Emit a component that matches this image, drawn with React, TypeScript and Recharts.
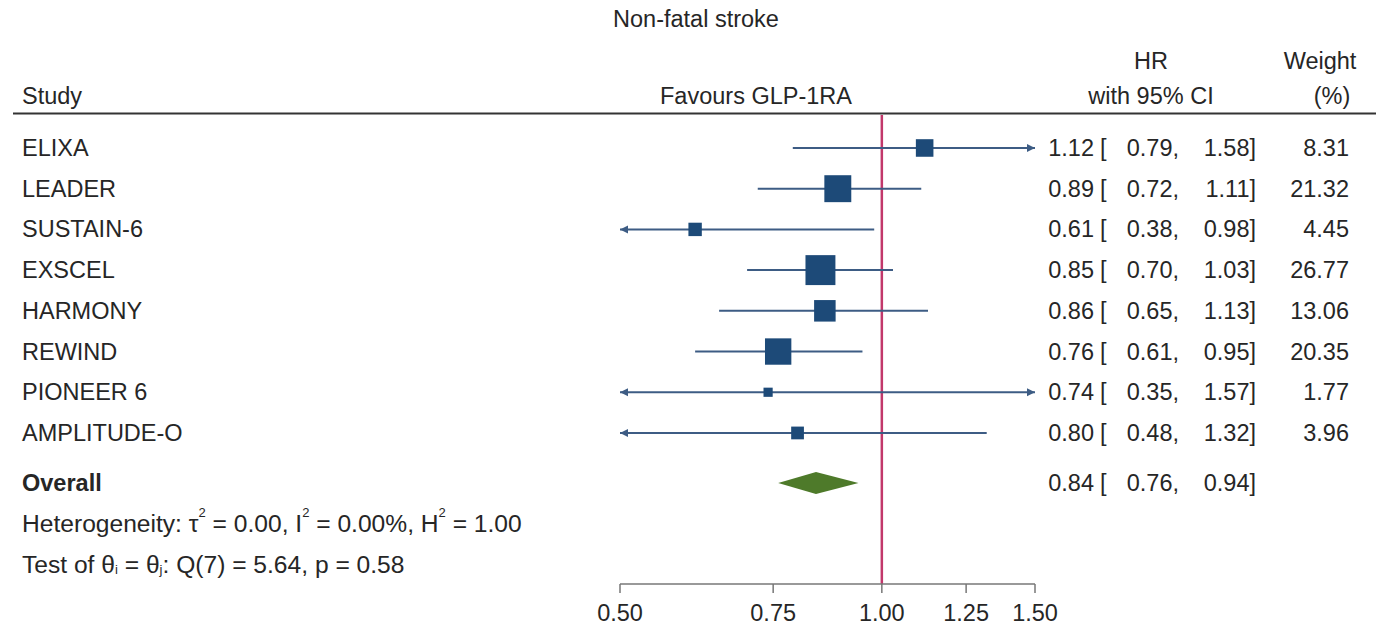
import React from 'react';
import { ComposedChart, XAxis, YAxis, Scatter, ReferenceLine } from 'recharts';

const FONT = '"Liberation Sans", Arial, Helvetica, sans-serif';
const FS = 23.5;
const FS_NOTE = 24.6;
const TEXT_COLOR = '#262626';
const CI_COLOR = '#3d5c84';
const BOX_COLOR = '#1d4a78';
const REF_COLOR = '#c2386b';
const DIAMOND_COLOR = '#4e7a2a';

// ---- data ----
const studies = ['ELIXA', 'LEADER', 'SUSTAIN-6', 'EXSCEL', 'HARMONY', 'REWIND', 'PIONEER 6', 'AMPLITUDE-O'];
const hr = [1.12, 0.89, 0.61, 0.85, 0.86, 0.76, 0.74, 0.8];
const ciLow = [0.79, 0.72, 0.38, 0.7, 0.65, 0.61, 0.35, 0.48];
const ciHigh = [1.58, 1.11, 0.98, 1.03, 1.13, 0.95, 1.57, 1.32];
const weights = [8.31, 21.32, 4.45, 26.77, 13.06, 20.35, 1.77, 3.96];
const studyRows = [1, 2, 3, 4, 5, 6, 7, 8];

const overallHr = 0.84;
const overallLow = 0.76;
const overallHigh = 0.94;
const overallRow = 9.23;
const hetRow = 10.21;
const testRow = 11.22;

const xDomain = [0.5, 1.5];
const xTicks = [0.5, 0.75, 1, 1.25, 1.5];
const yDomain = [0.19, 11.71];

const fmt = (v: number) => v.toFixed(2);

const rowData = [
  ...studies.map((s, i) => ({
    x: hr[i],
    y: studyRows[i],
    kind: 'study',
    label: s,
    est: hr[i],
    lo: ciLow[i],
    hi: ciHigh[i],
    w: weights[i],
  })),
  { x: overallHr, y: overallRow, kind: 'overall', label: 'Overall', est: overallHr, lo: overallLow, hi: overallHigh },
  { x: 1, y: hetRow, kind: 'het' },
  { x: 1, y: testRow, kind: 'test' },
];

const clip = (v: number) => Math.min(Math.max(v, xDomain[0]), xDomain[1]);

const ciShape = (loClipped: boolean, hiClipped: boolean) => (props: any) => {
  const { x1, y1, x2, y2 } = props;
  const a = 8;
  const h = 4;
  return (
    <g>
      <line x1={x1} y1={y1} x2={x2} y2={y2} stroke={CI_COLOR} strokeWidth={2} />
      {loClipped && (
        <polygon points={`${x1},${y1} ${x1 + a},${y1 - h} ${x1 + a},${y1 + h}`} fill={CI_COLOR} />
      )}
      {hiClipped && (
        <polygon points={`${x2},${y2} ${x2 - a},${y2 - h} ${x2 - a},${y2 + h}`} fill={CI_COLOR} />
      )}
    </g>
  );
};

const DH = 11;
const leftHalf = (props: any) => {
  const { x1, y1, x2 } = props;
  return <polygon points={`${x1},${y1} ${x2},${y1 - DH} ${x2},${y1 + DH}`} fill={DIAMOND_COLOR} />;
};
const rightHalf = (props: any) => {
  const { x1, y1, x2 } = props;
  return <polygon points={`${x1},${y1 - DH} ${x1},${y1 + DH} ${x2},${y1}`} fill={DIAMOND_COLOR} />;
};

const tprops = {
  fontFamily: FONT,
  fontSize: FS,
  fill: TEXT_COLOR,
  dominantBaseline: 'central' as const,
};

const rowShape = (p: any) => {
  const d = p.payload;
  const y = p.cy;
  if (d.kind === 'het') {
    return (
      <text x={22} y={y} {...tprops} fontSize={FS_NOTE}>
        <tspan>Heterogeneity: τ</tspan>
        <tspan dy={-11} fontSize={13}>2</tspan>
        <tspan dy={11}> = 0.00, I</tspan>
        <tspan dy={-11} fontSize={13}>2</tspan>
        <tspan dy={11}> = 0.00%, H</tspan>
        <tspan dy={-11} fontSize={13}>2</tspan>
        <tspan dy={11}> = 1.00</tspan>
      </text>
    );
  }
  if (d.kind === 'test') {
    return (
      <text x={22} y={y} {...tprops} fontSize={FS_NOTE}>
        <tspan>Test of θ</tspan>
        <tspan dy={5} fontSize={13}>i</tspan>
        <tspan dy={-5}> = θ</tspan>
        <tspan dy={5} fontSize={13}>j</tspan>
        <tspan dy={-5}>: Q(7) = 5.64, p = 0.58</tspan>
      </text>
    );
  }
  const side = d.kind === 'study' ? 5.4 * Math.sqrt(d.w) + 2 : 0;
  return (
    <g>
      {d.kind === 'study' && (
        <rect x={p.cx - side / 2} y={p.cy - side / 2} width={side} height={side} fill={BOX_COLOR} />
      )}
      <text x={22} y={y} {...tprops} fontWeight={d.kind === 'overall' ? 'bold' : 'normal'}>
        {d.label}
      </text>
      <text x={1094} y={y} {...tprops} textAnchor="end">{fmt(d.est)}</text>
      <text x={1100} y={y} {...tprops} textAnchor="start">[</text>
      <text x={1179} y={y} {...tprops} textAnchor="end">{fmt(d.lo) + ','}</text>
      <text x={1256} y={y} {...tprops} textAnchor="end">{fmt(d.hi) + ']'}</text>
      {d.w !== undefined && (
        <text x={1349} y={y} {...tprops} textAnchor="end">{fmt(d.w)}</text>
      )}
    </g>
  );
};

const Header = () => (
  <svg
    width={1376}
    height={626}
    style={{ position: 'absolute', left: 0, top: 0, pointerEvents: 'none' }}
  >
    <text x={696} y={19} {...tprops} textAnchor="middle">Non-fatal stroke</text>
    <text x={22} y={96} {...tprops}>Study</text>
    <text x={756} y={96} {...tprops} textAnchor="middle">Favours GLP-1RA</text>
    <text x={1151} y={61} {...tprops} textAnchor="middle">HR</text>
    <text x={1151} y={96} {...tprops} textAnchor="middle">with 95% CI</text>
    <text x={1320} y={61} {...tprops} textAnchor="middle">Weight</text>
    <text x={1332} y={96} {...tprops} textAnchor="middle">(%)</text>
    <line x1={13} y1={113.5} x2={1376} y2={113.5} stroke="#333" strokeWidth={2} />
  </svg>
);

export default function App() {
  return (
    <div style={{ position: 'absolute', left: 0, top: 0, width: 1376, height: 626, background: '#fff' }}>
      <ComposedChart
        width={1376}
        height={626}
        margin={{ top: 115, right: 341, bottom: 0, left: 620 }}
      >
        <XAxis
          dataKey="x"
          type="number"
          scale="log"
          domain={xDomain}
          ticks={xTicks}
          interval={0}
          height={42}
          tickSize={9}
          tickMargin={11}
          tickFormatter={fmt}
          axisLine={{ stroke: '#777', strokeWidth: 1.5 }}
          tickLine={{ stroke: '#777', strokeWidth: 1.5 }}
          tick={{ fontSize: FS, fill: TEXT_COLOR, fontFamily: FONT }}
        />
        <YAxis dataKey="y" type="number" domain={yDomain} reversed hide />
        <ReferenceLine x={1} stroke={REF_COLOR} strokeWidth={2.5} />
        {studies.map((s, i) => (
          <ReferenceLine
            key={s}
            ifOverflow="visible"
            segment={[
              { x: clip(ciLow[i]), y: studyRows[i] },
              { x: clip(ciHigh[i]), y: studyRows[i] },
            ]}
            shape={ciShape(ciLow[i] < xDomain[0], ciHigh[i] > xDomain[1])}
          />
        ))}
        <ReferenceLine
          ifOverflow="visible"
          segment={[
            { x: overallLow, y: overallRow },
            { x: overallHr, y: overallRow },
          ]}
          shape={leftHalf}
        />
        <ReferenceLine
          ifOverflow="visible"
          segment={[
            { x: overallHr, y: overallRow },
            { x: overallHigh, y: overallRow },
          ]}
          shape={rightHalf}
        />
        <Scatter data={rowData} shape={rowShape} isAnimationActive={false} />
      </ComposedChart>
      <Header />
    </div>
  );
}
